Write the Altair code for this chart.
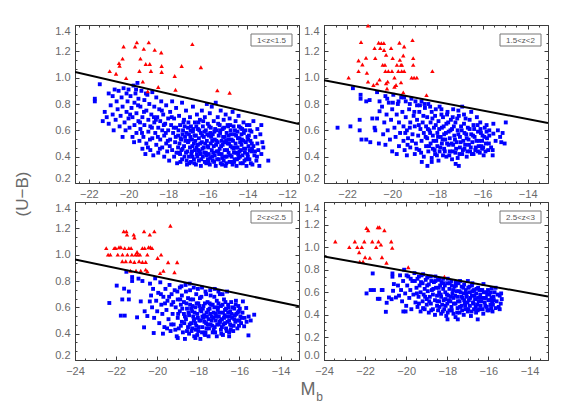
import altair as alt
import pandas as pd
import numpy as np

# ---------------- data ----------------
P1_LABEL = "1<z<1.5"
P1_XDOMAIN = [-22.7, -11.4]
P1_YDOMAIN = [0.2, 1.4]
P1_XTICKS = [-22, -20, -18, -16, -14, -12]
P1_LINE_X = [-22.7, -11.4]
P1_LINE_Y = [1.043, 0.648]
P1_RED = [(-20.95, 1.05), (-20.63, 1.03), (-20.45, 1.09), (-20.48, 1.11), (-20.3, 1.145), (-20.25, 1.237),
          (-20.12, 0.997), (-19.67, 1.237), (-19.58, 1.268), (-19.45, 1.051), (-19.4, 1.145), (-19.28, 0.97),
          (-19.23, 1.219), (-19.13, 1.104), (-18.98, 1.268), (-18.93, 1.104), (-18.87, 1.051), (-19.03, 0.896),
          (-18.68, 1.211), (-18.5, 0.929), (-18.35, 1.191), (-18.33, 1.089), (-18.33, 1.043), (-17.67, 1.013),
          (-17.63, 0.908), (-17.32, 1.089), (-16.78, 1.255), (-16.35, 1.079), (-15.52, 0.903), (-14.9, 0.885)]
P1_BLUE = [
    (-21.7, 0.84), (-21.7, 0.82), (-21.45, 0.95), (-21.3, 0.67), (-21.2, 0.74), (-21.1, 0.70), (-21.0, 0.65),
    (-21.0, 0.88), (-20.9, 0.79), (-20.8, 0.86), (-20.8, 0.72), (-20.75, 0.60), (-20.7, 0.91), (-20.65, 0.68),
    (-20.6, 0.82), (-20.55, 0.76), (-20.5, 0.90), (-20.45, 0.63), (-20.4, 0.71), (-20.35, 0.85), (-20.3, 0.55),
    (-20.3, 0.78), (-20.25, 0.92), (-20.2, 0.66), (-20.15, 0.60), (-20.1, 0.88), (-20.1, 0.74), (-20.05, 0.82),
    (-20.0, 0.69), (-20.0, 0.91),
    (-19.95, 0.62), (-19.9, 0.86), (-19.85, 0.77), (-19.8, 0.55), (-19.8, 0.70), (-19.75, 0.94), (-19.7, 0.64),
    (-19.7, 0.81), (-19.65, 0.88), (-19.6, 0.58), (-19.6, 0.73), (-19.55, 0.96), (-19.5, 0.67), (-19.5, 0.84),
    (-19.45, 0.52), (-19.4, 0.78), (-19.4, 0.61), (-19.35, 0.90), (-19.3, 0.70), (-19.3, 0.46), (-19.25, 0.55),
    (-19.2, 0.83), (-19.2, 0.64), (-19.15, 0.42), (-19.1, 0.75), (-19.1, 0.50), (-19.05, 0.87), (-19.0, 0.59),
    (-19.0, 0.68),
    (-18.95, 0.80), (-18.9, 0.45), (-18.9, 0.63), (-18.85, 0.72), (-18.8, 0.54), (-18.8, 0.89), (-18.75, 0.41),
    (-18.7, 0.66), (-18.7, 0.78), (-18.65, 0.58), (-18.6, 0.49), (-18.6, 0.85), (-18.55, 0.70), (-18.5, 0.62),
    (-18.5, 0.43), (-18.45, 0.76), (-18.4, 0.53), (-18.4, 0.67), (-18.35, 0.82), (-18.3, 0.47), (-18.3, 0.60),
    (-18.25, 0.72), (-18.2, 0.40), (-18.2, 0.56), (-18.15, 0.65), (-18.1, 0.79), (-18.1, 0.50), (-18.05, 0.44),
    (-18.0, 0.69), (-18.0, 0.60),
    (-17.95, 0.37), (-17.9, 0.53), (-17.9, 0.74), (-17.85, 0.64), (-17.8, 0.45), (-17.8, 0.82), (-17.75, 0.58),
    (-17.7, 0.40), (-17.7, 0.69), (-17.65, 0.51), (-17.6, 0.62), (-17.6, 0.77), (-17.55, 0.35), (-17.5, 0.47),
    (-17.5, 0.56), (-17.45, 0.71), (-17.4, 0.42), (-17.4, 0.64), (-17.35, 0.53), (-17.3, 0.81), (-17.3, 0.38),
    (-17.25, 0.60), (-17.2, 0.48), (-17.2, 0.68), (-17.15, 0.55), (-17.1, 0.75), (-17.1, 0.43), (-17.05, 0.34),
    (-17.0, 0.62), (-17.0, 0.51),
    (-16.95, 0.40), (-16.95, 0.57), (-16.9, 0.47), (-16.9, 0.70), (-16.85, 0.36), (-16.85, 0.63), (-16.8, 0.53),
    (-16.8, 0.44), (-16.75, 0.78), (-16.75, 0.59), (-16.7, 0.38), (-16.7, 0.50), (-16.65, 0.66), (-16.65, 0.45),
    (-16.6, 0.56), (-16.6, 0.34), (-16.55, 0.72), (-16.55, 0.42), (-16.5, 0.61), (-16.5, 0.49), (-16.45, 0.37),
    (-16.45, 0.54), (-16.4, 0.68), (-16.4, 0.44), (-16.35, 0.58), (-16.35, 0.33), (-16.3, 0.75), (-16.3, 0.51),
    (-16.25, 0.40), (-16.25, 0.63), (-16.2, 0.47), (-16.2, 0.55), (-16.15, 0.36), (-16.15, 0.70), (-16.1, 0.60),
    (-16.1, 0.43), (-16.05, 0.52), (-16.05, 0.80), (-16.0, 0.38), (-16.0, 0.65), (-16.0, 0.48),
    (-15.95, 0.56), (-15.95, 0.42), (-15.9, 0.73), (-15.9, 0.34), (-15.85, 0.50), (-15.85, 0.62), (-15.8, 0.45),
    (-15.8, 0.78), (-15.75, 0.37), (-15.75, 0.57), (-15.7, 0.67), (-15.7, 0.48), (-15.65, 0.41), (-15.65, 0.53),
    (-15.6, 0.81), (-15.6, 0.33), (-15.55, 0.60), (-15.55, 0.44), (-15.5, 0.70), (-15.5, 0.51), (-15.45, 0.38),
    (-15.45, 0.56), (-15.4, 0.64), (-15.4, 0.46), (-15.35, 0.35), (-15.35, 0.75), (-15.3, 0.52), (-15.3, 0.42),
    (-15.25, 0.61), (-15.25, 0.49), (-15.2, 0.37), (-15.2, 0.68), (-15.15, 0.55), (-15.15, 0.45), (-15.1, 0.33),
    (-15.1, 0.72), (-15.05, 0.58), (-15.05, 0.40), (-15.0, 0.50), (-15.0, 0.64),
    (-14.95, 0.43), (-14.95, 0.56), (-14.9, 0.36), (-14.9, 0.69), (-14.85, 0.48), (-14.85, 0.60), (-14.8, 0.40),
    (-14.8, 0.53), (-14.75, 0.74), (-14.75, 0.34), (-14.7, 0.46), (-14.7, 0.63), (-14.65, 0.57), (-14.65, 0.38),
    (-14.6, 0.50), (-14.6, 0.67), (-14.55, 0.43), (-14.55, 0.33), (-14.5, 0.59), (-14.5, 0.47), (-14.45, 0.71),
    (-14.45, 0.39), (-14.4, 0.54), (-14.4, 0.44), (-14.35, 0.62), (-14.35, 0.35), (-14.3, 0.49), (-14.3, 0.57),
    (-14.25, 0.41), (-14.2, 0.66), (-14.2, 0.52), (-14.15, 0.37), (-14.1, 0.46), (-14.1, 0.60), (-14.05, 0.33),
    (-14.0, 0.55), (-14.0, 0.42),
    (-13.95, 0.48), (-13.9, 0.64), (-13.9, 0.38), (-13.85, 0.52), (-13.8, 0.44), (-13.8, 0.59), (-13.75, 0.34),
    (-13.7, 0.67), (-13.7, 0.48), (-13.65, 0.41), (-13.6, 0.55), (-13.55, 0.37), (-13.5, 0.50), (-13.5, 0.61),
    (-13.45, 0.45), (-13.4, 0.33), (-13.35, 0.57), (-13.3, 0.64), (-13.3, 0.42), (-13.25, 0.51), (-13.2, 0.47),
    (-12.95, 0.37)]
P1_BLUE_DENSE = [
    (-17.48, 0.60), (-17.43, 0.50), (-17.38, 0.36), (-17.33, 0.45), (-17.28, 0.57), (-17.23, 0.66), (-17.18, 0.40),
    (-17.13, 0.52), (-17.08, 0.58), (-17.03, 0.44), (-16.98, 0.66), (-16.93, 0.35), (-16.88, 0.55), (-16.83, 0.42),
    (-16.78, 0.48), (-16.73, 0.61), (-16.68, 0.35), (-16.63, 0.52), (-16.58, 0.63), (-16.53, 0.40), (-16.48, 0.45),
    (-16.43, 0.60), (-16.38, 0.50), (-16.33, 0.38), (-16.28, 0.56), (-16.23, 0.67), (-16.18, 0.43), (-16.13, 0.50),
    (-16.08, 0.35), (-16.03, 0.57), (-15.98, 0.47), (-15.93, 0.63), (-15.88, 0.39), (-15.83, 0.55), (-15.78, 0.52),
    (-15.73, 0.43), (-15.68, 0.36), (-15.63, 0.61), (-15.58, 0.49), (-15.53, 0.38), (-15.48, 0.65), (-15.43, 0.42),
    (-15.38, 0.58), (-15.33, 0.48), (-15.28, 0.34), (-15.23, 0.55), (-15.18, 0.62), (-15.13, 0.40), (-15.08, 0.52),
    (-15.03, 0.45), (-14.98, 0.63), (-14.93, 0.50), (-14.88, 0.41), (-14.83, 0.57), (-14.78, 0.36), (-14.73, 0.52),
    (-14.68, 0.43), (-14.63, 0.60), (-14.58, 0.47), (-14.53, 0.38), (-14.48, 0.54), (-14.43, 0.63), (-14.38, 0.40),
    (-14.33, 0.45), (-14.28, 0.53), (-14.23, 0.35), (-14.18, 0.58), (-14.13, 0.43), (-14.08, 0.51), (-14.03, 0.64),
    (-13.98, 0.40), (-13.93, 0.56), (-13.88, 0.45), (-13.83, 0.35), (-13.78, 0.50),
    (-17.47, 0.43), (-17.37, 0.54), (-17.27, 0.46), (-17.17, 0.63), (-17.07, 0.37), (-16.97, 0.52), (-16.87, 0.60),
    (-16.77, 0.40), (-16.67, 0.56), (-16.57, 0.47), (-16.47, 0.66), (-16.37, 0.42), (-16.27, 0.46), (-16.17, 0.59),
    (-16.07, 0.41), (-15.97, 0.36), (-15.87, 0.58), (-15.77, 0.40), (-15.67, 0.59), (-15.57, 0.52), (-15.47, 0.44),
    (-15.37, 0.60), (-15.27, 0.39), (-15.17, 0.51), (-15.07, 0.35), (-14.97, 0.53), (-14.87, 0.64), (-14.77, 0.47),
    (-14.67, 0.36), (-14.57, 0.56), (-14.47, 0.42), (-14.37, 0.51), (-14.27, 0.61), (-14.17, 0.46), (-14.07, 0.38),
    (-13.97, 0.53), (-13.87, 0.60), (-13.77, 0.46), (-13.62, 0.44), (-13.52, 0.40),
    (-19.92, 0.72), (-19.72, 0.51), (-19.52, 0.79), (-19.32, 0.58), (-19.12, 0.88), (-18.92, 0.53), (-18.72, 0.70),
    (-18.52, 0.55), (-18.32, 0.75), (-18.12, 0.58), (-17.92, 0.48), (-17.72, 0.62), (-17.58, 0.43), (-19.62, 0.91),
    (-19.42, 0.66), (-19.22, 0.74), (-19.02, 0.47), (-18.82, 0.62), (-18.62, 0.68), (-18.42, 0.46), (-18.22, 0.64),
    (-18.02, 0.52), (-17.82, 0.70), (-17.62, 0.55)]

P2_LABEL = "1.5<z<2"
P2_XDOMAIN = [-23.02, -13.1]
P2_YDOMAIN = [0.2, 1.4]
P2_XTICKS = [-22, -20, -18, -16, -14]
P2_LINE_X = [-23.02, -13.1]
P2_LINE_Y = [0.98, 0.656]
P2_RED = [(-21.93, 1.0), (-21.49, 1.05), (-21.49, 1.13), (-21.38, 1.27), (-21.32, 1.10), (-21.16, 1.15),
          (-21.12, 1.036), (-21.07, 0.97), (-20.83, 0.944), (-20.78, 1.224), (-20.75, 1.148), (-20.67, 0.957),
          (-20.6, 1.265), (-20.56, 0.985), (-20.53, 1.224), (-20.48, 1.262), (-20.42, 1.097), (-20.37, 1.262),
          (-20.36, 1.21), (-20.32, 1.097), (-20.3, 1.05), (-20.27, 1.173), (-20.27, 0.957), (-20.23, 0.918),
          (-20.2, 0.97), (-20.17, 1.05), (-20.05, 1.224), (-20.01, 1.05), (-19.98, 1.148), (-19.9, 1.0),
          (-19.9, 0.931), (-19.83, 0.944), (-19.79, 1.097), (-19.73, 1.05), (-19.68, 1.265), (-19.66, 1.135),
          (-19.61, 1.097), (-19.58, 1.05), (-19.57, 1.097), (-19.51, 1.168), (-19.47, 1.237), (-19.47, 1.05),
          (-19.51, 0.888), (-19.61, 0.964), (-19.14, 1.0), (-19.1, 1.285), (-19.07, 1.148), (-19.03, 1.0),
          (-18.91, 1.0), (-19.07, 1.097), (-18.48, 0.867), (-18.22, 1.05), (-21.07, 1.395)]
P2_BLUE = [
    (-22.42, 0.62), (-21.85, 0.63), (-21.44, 0.60), (-21.44, 0.68), (-21.74, 0.92), (-21.4, 0.87), (-21.4, 0.84),
    (-21.36, 0.53), (-21.15, 0.53), (-20.97, 0.51), (-20.88, 0.69), (-21.0, 0.83), (-21.15, 0.82), (-20.78, 0.62),
    (-20.75, 0.60), (-20.67, 0.69), (-20.59, 0.50), (-20.56, 0.745), (-20.56, 0.82), (-20.67, 0.89),
    (-14.97, 0.66), (-15.11, 0.58), (-15.17, 0.51), (-15.52, 0.65), (-15.52, 0.575), (-15.55, 0.45),
    (-15.55, 0.41), (-15.7, 0.56), (-15.82, 0.64), (-16.02, 0.46), (-16.09, 0.61),
    (-18.69, 0.36), (-18.44, 0.33), (-18.25, 0.36), (-19.8, 0.42), (-19.35, 0.41), (-17.19, 0.345), (-17.05, 0.33),
    (-20.45, 0.78), (-20.4, 0.57), (-20.35, 0.66), (-20.3, 0.86), (-20.3, 0.49), (-20.25, 0.72), (-20.2, 0.60),
    (-20.15, 0.81), (-20.1, 0.53), (-20.05, 0.68), (-20.0, 0.76), (-20.0, 0.44), (-19.95, 0.87), (-19.9, 0.62),
    (-19.85, 0.55), (-19.8, 0.72), (-19.75, 0.80), (-19.7, 0.48), (-19.7, 0.66), (-19.65, 0.58), (-19.6, 0.85),
    (-19.55, 0.74), (-19.5, 0.52), (-19.5, 0.63),
    (-19.45, 0.45), (-19.4, 0.70), (-19.4, 0.82), (-19.35, 0.60), (-19.3, 0.54), (-19.25, 0.76), (-19.2, 0.47),
    (-19.2, 0.66), (-19.15, 0.84), (-19.1, 0.57), (-19.05, 0.71), (-19.0, 0.42), (-19.0, 0.63), (-18.95, 0.50),
    (-18.9, 0.79), (-18.9, 0.68), (-18.85, 0.56), (-18.8, 0.45), (-18.8, 0.74), (-18.75, 0.61), (-18.7, 0.82),
    (-18.7, 0.52), (-18.65, 0.66), (-18.6, 0.40), (-18.6, 0.58), (-18.55, 0.77), (-18.5, 0.48), (-18.5, 0.63),
    (-18.45, 0.70), (-18.45, 0.54), (-18.4, 0.44), (-18.4, 0.80), (-18.35, 0.60), (-18.3, 0.50), (-18.3, 0.66),
    (-18.25, 0.39), (-18.25, 0.74), (-18.2, 0.56), (-18.2, 0.46), (-18.15, 0.62), (-18.1, 0.42), (-18.1, 0.71),
    (-18.05, 0.52), (-18.0, 0.58), (-18.0, 0.48), (-17.95, 0.67), (-17.95, 0.37), (-17.9, 0.44), (-17.9, 0.78),
    (-17.85, 0.55), (-17.8, 0.62), (-17.8, 0.50), (-17.75, 0.41), (-17.75, 0.70), (-17.7, 0.46), (-17.7, 0.57),
    (-17.65, 0.53), (-17.6, 0.65), (-17.6, 0.40), (-17.55, 0.74), (-17.5, 0.49), (-17.5, 0.59),
    (-17.45, 0.44), (-17.45, 0.54), (-17.4, 0.68), (-17.35, 0.38), (-17.35, 0.61), (-17.3, 0.49), (-17.3, 0.76),
    (-17.25, 0.56), (-17.2, 0.43), (-17.2, 0.66), (-17.15, 0.51), (-17.1, 0.60), (-17.1, 0.39), (-17.05, 0.71),
    (-17.0, 0.47), (-17.0, 0.55), (-16.95, 0.63), (-16.9, 0.42), (-16.9, 0.78), (-16.85, 0.52), (-16.8, 0.58),
    (-16.8, 0.46), (-16.75, 0.69), (-16.7, 0.40), (-16.7, 0.54), (-16.65, 0.62), (-16.6, 0.49), (-16.55, 0.44),
    (-16.5, 0.74), (-16.5, 0.57),
    (-16.45, 0.51), (-16.4, 0.64), (-16.4, 0.42), (-16.35, 0.55), (-16.3, 0.47), (-16.25, 0.70), (-16.2, 0.59),
    (-16.2, 0.44), (-16.15, 0.52), (-16.1, 0.66), (-16.05, 0.48), (-16.0, 0.56), (-15.95, 0.41), (-15.9, 0.62),
    (-15.85, 0.50), (-15.8, 0.54), (-15.75, 0.45), (-15.7, 0.60)]
P2_BLUE_DENSE = [
    (-19.42, 0.58), (-19.32, 0.49), (-19.22, 0.62), (-19.12, 0.52), (-19.02, 0.74), (-18.92, 0.46), (-18.82, 0.64),
    (-18.72, 0.43), (-18.62, 0.71), (-18.52, 0.55), (-18.42, 0.61), (-18.37, 0.48), (-18.32, 0.58), (-18.22, 0.69),
    (-18.17, 0.52), (-18.12, 0.45), (-18.07, 0.64), (-18.02, 0.41), (-17.97, 0.55), (-17.92, 0.61), (-17.87, 0.47),
    (-17.82, 0.72), (-17.77, 0.53), (-17.72, 0.63), (-17.67, 0.44), (-17.62, 0.58), (-17.57, 0.50), (-17.52, 0.66),
    (-17.47, 0.41), (-17.42, 0.60), (-17.37, 0.50), (-17.32, 0.44), (-17.27, 0.63), (-17.22, 0.53), (-17.17, 0.46),
    (-17.12, 0.69), (-17.07, 0.57), (-17.02, 0.42), (-16.97, 0.51), (-16.92, 0.60), (-16.87, 0.45), (-16.82, 0.65),
    (-16.77, 0.49), (-16.72, 0.57), (-16.67, 0.44), (-16.62, 0.53), (-16.57, 0.61), (-16.52, 0.47), (-16.47, 0.42),
    (-16.42, 0.56), (-16.37, 0.61), (-16.32, 0.45), (-16.27, 0.52), (-16.22, 0.64), (-16.17, 0.48), (-16.12, 0.43),
    (-16.07, 0.58), (-16.02, 0.52), (-15.97, 0.47), (-15.92, 0.55), (-15.87, 0.44), (-15.82, 0.59), (-15.72, 0.50),
    (-15.62, 0.47), (-15.42, 0.52), (-15.32, 0.60), (-15.22, 0.55), (-15.02, 0.50),
    (-20.22, 0.84), (-19.97, 0.81), (-19.72, 0.82), (-19.47, 0.85), (-19.22, 0.80), (-18.97, 0.82), (-18.77, 0.79),
    (-18.57, 0.80), (-18.32, 0.78), (-18.07, 0.76), (-17.82, 0.76), (-17.57, 0.72), (-17.32, 0.70), (-17.07, 0.75),
    (-16.82, 0.72), (-16.57, 0.68)]

P3_LABEL = "2<z<2.5"
P3_XDOMAIN = [-24.0, -13.1]
P3_YDOMAIN = [0.2, 1.4]
P3_XTICKS = [-24, -22, -20, -18, -16, -14]
P3_LINE_X = [-24.0, -13.1]
P3_LINE_Y = [0.964, 0.608]
P3_RED = [(-22.48, 1.05), (-22.39, 1.0), (-22.28, 1.0), (-22.09, 1.05), (-22.02, 1.05), (-21.92, 1.0),
          (-21.86, 1.056), (-21.77, 1.056), (-21.7, 0.95), (-21.69, 1.0), (-21.63, 1.177), (-21.58, 1.05),
          (-21.5, 1.177), (-21.47, 1.152), (-21.53, 0.95), (-21.45, 1.0), (-21.38, 1.05), (-21.3, 0.95),
          (-21.27, 1.05), (-21.23, 1.0), (-21.14, 1.152), (-21.11, 1.13), (-21.11, 0.944), (-21.06, 1.0),
          (-20.98, 1.02), (-21.03, 0.878), (-20.95, 1.0), (-20.88, 0.95), (-20.84, 1.0), (-20.8, 0.878),
          (-20.72, 1.05), (-20.72, 0.944), (-20.64, 1.177), (-20.61, 1.05), (-20.56, 0.886), (-20.56, 0.944),
          (-20.48, 1.0), (-20.48, 0.873), (-20.42, 1.056), (-20.36, 1.152), (-20.33, 1.056), (-20.25, 1.05),
          (-20.14, 1.177), (-19.98, 0.975), (-19.86, 0.86), (-19.81, 1.0), (-19.7, 0.878), (-19.47, 0.942),
          (-19.36, 1.22), (-19.16, 0.866), (-19.03, 0.942), (-21.3, 0.878)]
P3_BLUE = [
    (-22.33, 0.633), (-21.97, 0.765), (-21.7, 0.66), (-21.77, 0.537), (-21.58, 0.537), (-21.61, 0.742),
    (-21.38, 0.72), (-21.38, 0.66), (-21.5, 0.87), (-21.22, 0.83), (-21.22, 0.80), (-20.98, 0.524),
    (-20.8, 0.645), (-20.64, 0.448), (-20.91, 0.818), (-20.72, 0.80), (-20.61, 0.57), (-20.48, 0.534),
    (-20.36, 0.645), (-20.17, 0.405),
    (-15.28, 0.544), (-15.56, 0.387), (-15.83, 0.645), (-15.67, 0.595), (-15.88, 0.52), (-15.77, 0.456),
    (-16.03, 0.57), (-16.17, 0.65),
    (-20.35, 0.78), (-20.3, 0.69), (-20.25, 0.60), (-20.2, 0.74), (-20.15, 0.52), (-20.1, 0.82), (-20.05, 0.65),
    (-20.0, 0.57), (-19.95, 0.71), (-19.9, 0.48), (-19.85, 0.79), (-19.8, 0.62), (-19.75, 0.55), (-19.7, 0.68),
    (-19.65, 0.45), (-19.6, 0.74), (-19.55, 0.58), (-19.5, 0.65),
    (-19.45, 0.51), (-19.4, 0.77), (-19.35, 0.42), (-19.3, 0.62), (-19.3, 0.70), (-19.25, 0.55), (-19.2, 0.47),
    (-19.15, 0.73), (-19.1, 0.60), (-19.05, 0.38), (-19.0, 0.66), (-19.0, 0.52), (-18.95, 0.44), (-18.9, 0.57),
    (-18.9, 0.75), (-18.85, 0.62), (-18.8, 0.49), (-18.8, 0.69), (-18.75, 0.41), (-18.7, 0.55), (-18.7, 0.64),
    (-18.65, 0.36), (-18.6, 0.72), (-18.6, 0.51), (-18.55, 0.59), (-18.5, 0.45), (-18.5, 0.67),
    (-18.45, 0.54), (-18.45, 0.40), (-18.4, 0.62), (-18.4, 0.73), (-18.35, 0.48), (-18.3, 0.57), (-18.3, 0.44),
    (-18.25, 0.66), (-18.2, 0.51), (-18.2, 0.38), (-18.15, 0.60), (-18.1, 0.70), (-18.1, 0.46), (-18.05, 0.55),
    (-18.0, 0.42), (-18.0, 0.63), (-17.95, 0.50), (-17.9, 0.58), (-17.9, 0.36), (-17.85, 0.68), (-17.8, 0.45),
    (-17.8, 0.53), (-17.75, 0.61), (-17.7, 0.40), (-17.7, 0.49), (-17.65, 0.72), (-17.6, 0.56), (-17.6, 0.44),
    (-17.55, 0.64), (-17.5, 0.51), (-17.5, 0.38),
    (-17.45, 0.59), (-17.4, 0.47), (-17.4, 0.69), (-17.35, 0.53), (-17.3, 0.41), (-17.3, 0.62), (-17.25, 0.56),
    (-17.2, 0.45), (-17.2, 0.74), (-17.15, 0.50), (-17.1, 0.65), (-17.1, 0.38), (-17.05, 0.58), (-17.0, 0.47),
    (-17.0, 0.53), (-16.95, 0.70), (-16.9, 0.43), (-16.9, 0.61), (-16.85, 0.51), (-16.8, 0.56), (-16.8, 0.39),
    (-16.75, 0.66), (-16.7, 0.48), (-16.7, 0.58), (-16.65, 0.44), (-16.6, 0.53), (-16.6, 0.72), (-16.55, 0.62),
    (-16.5, 0.41), (-16.5, 0.50),
    (-16.45, 0.57), (-16.4, 0.46), (-16.4, 0.64), (-16.35, 0.52), (-16.3, 0.42), (-16.25, 0.59), (-16.2, 0.49),
    (-16.15, 0.55), (-16.1, 0.44), (-16.05, 0.61), (-16.0, 0.50), (-15.95, 0.53),
    (-19.0, 0.367), (-18.14, 0.367), (-17.67, 0.39), (-16.5, 0.38),
    (-18.85, 0.46), (-18.65, 0.53), (-18.35, 0.59), (-18.15, 0.48), (-17.95, 0.61), (-17.75, 0.52),
    (-17.55, 0.47), (-17.35, 0.50), (-17.15, 0.55), (-16.95, 0.49), (-16.75, 0.52), (-16.55, 0.56),
    (-18.55, 0.42), (-18.05, 0.39), (-17.65, 0.41), (-17.25, 0.43), (-16.85, 0.45), (-16.45, 0.47),
    (-18.25, 0.53), (-17.85, 0.57), (-17.45, 0.63), (-17.05, 0.60), (-16.65, 0.59), (-16.25, 0.51)]
P3_BLUE_DENSE = [
    (-18.98, 0.55), (-18.88, 0.66), (-18.78, 0.59), (-18.68, 0.48), (-18.58, 0.63), (-18.48, 0.56), (-18.42, 0.47),
    (-18.38, 0.66), (-18.33, 0.42), (-18.28, 0.61), (-18.22, 0.50), (-18.18, 0.56), (-18.12, 0.43), (-18.08, 0.63),
    (-18.02, 0.52), (-17.98, 0.45), (-17.92, 0.67), (-17.88, 0.50), (-17.82, 0.41), (-17.78, 0.59), (-17.72, 0.54),
    (-17.68, 0.63), (-17.62, 0.48), (-17.58, 0.53), (-17.52, 0.58), (-17.48, 0.44), (-17.42, 0.55), (-17.38, 0.62),
    (-17.32, 0.46), (-17.28, 0.52), (-17.22, 0.60), (-17.18, 0.41), (-17.12, 0.53), (-17.08, 0.47), (-17.02, 0.63),
    (-16.98, 0.56), (-16.92, 0.50), (-16.88, 0.40), (-16.82, 0.62), (-16.78, 0.47), (-16.72, 0.54), (-16.68, 0.64),
    (-16.62, 0.42), (-16.58, 0.49), (-16.52, 0.60), (-16.48, 0.53), (-16.42, 0.43), (-16.38, 0.55), (-16.32, 0.60),
    (-16.28, 0.46), (-16.22, 0.54), (-16.18, 0.62), (-16.12, 0.50), (-16.08, 0.56), (-16.02, 0.46), (-15.98, 0.59),
    (-15.92, 0.48), (-15.85, 0.56), (-15.75, 0.52), (-15.65, 0.49), (-15.55, 0.53), (-15.45, 0.50),
    (-19.82, 0.70), (-19.62, 0.63), (-19.42, 0.68), (-19.22, 0.64), (-19.02, 0.72), (-18.82, 0.76), (-18.62, 0.77),
    (-18.42, 0.78), (-18.22, 0.75), (-18.02, 0.74), (-17.82, 0.75), (-17.62, 0.70), (-17.42, 0.73), (-17.22, 0.68),
    (-17.02, 0.72), (-16.82, 0.70), (-19.72, 0.40), (-19.52, 0.44), (-19.32, 0.47), (-19.12, 0.43)]

P4_LABEL = "2.5<z<3"
P4_XDOMAIN = [-24.0, -13.1]
P4_YDOMAIN = [0.0, 1.4]
P4_XTICKS = [-24, -22, -20, -18, -16, -14]
P4_LINE_X = [-24.0, -13.1]
P4_LINE_Y = [0.918, 0.563]
P4_RED = [(-23.45, 1.05), (-22.77, 1.0), (-22.5, 1.05), (-22.38, 1.0), (-22.29, 0.955), (-22.26, 0.872),
          (-22.16, 1.0), (-22.1, 0.872), (-22.04, 1.05), (-22.0, 0.91), (-21.93, 1.17), (-21.85, 1.15),
          (-21.77, 0.905), (-21.65, 1.05), (-21.46, 1.0), (-21.38, 1.176), (-21.3, 1.176), (-21.35, 1.05),
          (-21.23, 1.022), (-21.18, 0.91), (-21.06, 1.15), (-20.96, 0.862), (-20.73, 1.05), (-20.68, 0.994),
          (-19.9, 0.822), (-18.14, 0.739)]
P4_BLUE = [
    (-21.63, 0.767), (-21.93, 0.59), (-21.73, 0.62), (-21.57, 0.62), (-21.3, 0.542), (-21.19, 0.62),
    (-21.15, 0.62), (-21.38, 0.542), (-20.99, 0.427), (-20.95, 0.507), (-20.84, 0.554), (-20.71, 0.539),
    (-20.64, 0.613), (-20.6, 0.673), (-20.5, 0.554), (-20.67, 0.767), (-20.67, 0.738),
    (-15.74, 0.53), (-15.78, 0.49), (-15.87, 0.46), (-15.84, 0.637), (-16.06, 0.584), (-16.24, 0.673),
    (-16.52, 0.36), (-17.99, 0.36), (-17.49, 0.36), (-20.14, 0.43), (-20.03, 0.43),
    (-20.4, 0.66), (-20.35, 0.57), (-20.3, 0.75), (-20.25, 0.62), (-20.2, 0.52), (-20.15, 0.70), (-20.1, 0.80),
    (-20.05, 0.59), (-20.0, 0.48), (-19.95, 0.66), (-19.9, 0.74), (-19.85, 0.55), (-19.8, 0.62), (-19.75, 0.45),
    (-19.7, 0.70), (-19.65, 0.58), (-19.6, 0.77), (-19.55, 0.51), (-19.5, 0.64),
    (-19.45, 0.72), (-19.45, 0.47), (-19.4, 0.56), (-19.35, 0.66), (-19.3, 0.43), (-19.3, 0.60), (-19.25, 0.75),
    (-19.2, 0.52), (-19.2, 0.68), (-19.15, 0.58), (-19.1, 0.45), (-19.1, 0.63), (-19.05, 0.71), (-19.0, 0.54),
    (-19.0, 0.49), (-18.95, 0.61), (-18.9, 0.42), (-18.9, 0.67), (-18.85, 0.56), (-18.8, 0.74), (-18.8, 0.50),
    (-18.75, 0.62), (-18.7, 0.45), (-18.7, 0.58), (-18.65, 0.69), (-18.6, 0.53), (-18.6, 0.40), (-18.55, 0.64),
    (-18.5, 0.48), (-18.5, 0.57),
    (-18.45, 0.71), (-18.45, 0.44), (-18.4, 0.60), (-18.4, 0.52), (-18.35, 0.66), (-18.3, 0.41), (-18.3, 0.56),
    (-18.25, 0.49), (-18.2, 0.63), (-18.2, 0.72), (-18.15, 0.45), (-18.1, 0.54), (-18.1, 0.60), (-18.05, 0.39),
    (-18.0, 0.68), (-18.0, 0.50), (-17.95, 0.57), (-17.9, 0.44), (-17.9, 0.63), (-17.85, 0.52), (-17.8, 0.70),
    (-17.8, 0.47), (-17.75, 0.59), (-17.7, 0.41), (-17.7, 0.55), (-17.65, 0.65), (-17.6, 0.50), (-17.6, 0.38),
    (-17.55, 0.61), (-17.5, 0.46), (-17.5, 0.56),
    (-17.45, 0.68), (-17.4, 0.52), (-17.4, 0.42), (-17.35, 0.60), (-17.3, 0.48), (-17.3, 0.65), (-17.25, 0.55),
    (-17.2, 0.40), (-17.2, 0.59), (-17.15, 0.50), (-17.1, 0.62), (-17.1, 0.45), (-17.05, 0.56), (-17.0, 0.70),
    (-17.0, 0.43), (-16.95, 0.53), (-16.9, 0.60), (-16.9, 0.48), (-16.85, 0.39), (-16.8, 0.57), (-16.8, 0.66),
    (-16.75, 0.51), (-16.7, 0.45), (-16.7, 0.62), (-16.65, 0.54), (-16.6, 0.42), (-16.6, 0.59), (-16.55, 0.49),
    (-16.5, 0.64), (-16.5, 0.55),
    (-16.45, 0.45), (-16.4, 0.58), (-16.35, 0.52), (-16.3, 0.62), (-16.25, 0.41), (-16.2, 0.55), (-16.15, 0.48),
    (-16.1, 0.60), (-16.05, 0.44), (-16.0, 0.53), (-15.95, 0.58), (-15.9, 0.49), (-15.85, 0.55), (-15.8, 0.43),
    (-15.7, 0.60), (-15.6, 0.52), (-15.5, 0.47), (-15.45, 0.57), (-15.4, 0.50), (-15.35, 0.54)]
P4_BLUE_DENSE = [
    (-19.48, 0.59), (-19.38, 0.50), (-19.28, 0.69), (-19.18, 0.46), (-19.08, 0.56), (-18.98, 0.66), (-18.88, 0.52),
    (-18.78, 0.44), (-18.68, 0.63), (-18.58, 0.70), (-18.48, 0.52), (-18.42, 0.64), (-18.38, 0.47), (-18.32, 0.58),
    (-18.28, 0.69), (-18.22, 0.43), (-18.18, 0.53), (-18.12, 0.66), (-18.08, 0.48), (-18.02, 0.58), (-17.98, 0.42),
    (-17.92, 0.53), (-17.88, 0.68), (-17.82, 0.56), (-17.78, 0.44), (-17.72, 0.62), (-17.68, 0.50), (-17.62, 0.57),
    (-17.58, 0.66), (-17.52, 0.42), (-17.48, 0.52), (-17.42, 0.61), (-17.38, 0.47), (-17.32, 0.56), (-17.28, 0.44),
    (-17.22, 0.64), (-17.18, 0.53), (-17.12, 0.48), (-17.08, 0.59), (-17.02, 0.51), (-16.98, 0.45), (-16.92, 0.65),
    (-16.88, 0.55), (-16.82, 0.43), (-16.78, 0.61), (-16.72, 0.50), (-16.68, 0.57), (-16.62, 0.47), (-16.58, 0.63),
    (-16.52, 0.44), (-16.48, 0.52), (-16.42, 0.62), (-16.38, 0.48), (-16.32, 0.55), (-16.28, 0.45), (-16.22, 0.60),
    (-16.18, 0.51), (-16.12, 0.55), (-16.08, 0.47), (-16.02, 0.62), (-15.98, 0.44), (-15.92, 0.53), (-15.88, 0.60),
    (-15.82, 0.50), (-15.75, 0.56), (-15.65, 0.46), (-15.55, 0.58), (-15.45, 0.45), (-15.38, 0.59), (-15.65, 0.64),
    (-19.98, 0.75), (-19.78, 0.72), (-19.58, 0.70), (-19.38, 0.74), (-19.18, 0.76), (-18.98, 0.73), (-18.78, 0.70),
    (-18.58, 0.74), (-18.38, 0.72), (-18.18, 0.68), (-17.98, 0.72), (-17.78, 0.66), (-17.58, 0.69), (-17.38, 0.70),
    (-17.18, 0.67), (-16.98, 0.64), (-16.78, 0.68)]

Y_TITLE = "(U\u2212B)"
X_TITLE_MAIN = "M"
X_TITLE_SUB = "b"

# ---------------- styling ----------------
FONT = "Liberation Sans"
GRAY = "#6a6a6a"
FRAME = "#3c3c3c"
BLUE = "#0000ff"
RED = "#ff0000"
W, H = 224, 158


def main_axis(orient, values, fmt, flush):
    return alt.Axis(orient=orient, values=values, format=fmt, ticks=False, domain=False, grid=False,
                    title=None, labelColor=GRAY, labelFont=FONT, labelFontSize=11, labelPadding=5,
                    labelFlush=flush, labelOverlap=False)


def tick_axis(orient, values, size):
    return alt.Axis(orient=orient, values=values, ticks=True, tickSize=size, tickColor=FRAME, tickWidth=1,
                    labels=False, domain=False, grid=False, title=None, offset=-size)


def minor_values(lo, hi, step):
    start = np.ceil(lo / step - 1e-9) * step
    return [round(float(v), 4) for v in np.arange(start, hi + 1e-9, step)]


def panel(blue, red, lx, ly, label, xdom, ydom, xticks, extras=()):
    bdf = pd.DataFrame(blue, columns=["x", "y"])
    rdf = pd.DataFrame(red, columns=["x", "y"])
    ldf = pd.DataFrame({"x": lx, "y": ly})
    xs = alt.Scale(domain=xdom, nice=False, zero=False)
    ys = alt.Scale(domain=ydom, nice=False, zero=False)
    yticks = [round(v, 1) for v in np.arange(ydom[0], ydom[1] + 1e-9, 0.2)]
    xminor = minor_values(xdom[0], xdom[1], 0.5)
    yminor = minor_values(ydom[0], ydom[1], 0.2 / 3)

    def X(ax):
        return alt.X("x:Q", scale=xs, axis=ax)

    def Y(ax):
        return alt.Y("y:Q", scale=ys, axis=ax)

    blue_l = alt.Chart(bdf).mark_square(size=15, color=BLUE, opacity=1).encode(
        x=X(main_axis("bottom", xticks, "d", False)), y=Y(main_axis("left", yticks, ".1f", True)))
    red_l = alt.Chart(rdf).mark_point(shape="triangle-up", filled=True, size=20, color=RED, opacity=1).encode(
        x=X(tick_axis("bottom", xticks, 4)), y=Y(tick_axis("left", yticks, 4)))
    line_l = alt.Chart(ldf).mark_line(color="black", strokeWidth=2, clip=True).encode(
        x=X(tick_axis("top", xticks, 4)), y=Y(tick_axis("right", yticks, 4)))
    minor_a = alt.Chart(ldf).mark_line(opacity=0).encode(
        x=X(tick_axis("bottom", xminor, 2)), y=Y(tick_axis("left", yminor, 2)))
    minor_b = alt.Chart(ldf).mark_line(opacity=0).encode(
        x=X(tick_axis("top", xminor, 2)), y=Y(tick_axis("right", yminor, 2)))
    lab = pd.DataFrame({"t": [label]})
    box = alt.Chart(lab).mark_rect(fill="white", stroke="#777777", strokeWidth=1).encode(
        x=alt.value(176), x2=alt.value(217), y=alt.value(9), y2=alt.value(21))
    txt = alt.Chart(lab).mark_text(font=FONT, fontSize=8, color="#555555", align="center",
                                   baseline="middle").encode(
        text="t:N", x=alt.value(196.5), y=alt.value(15.5))
    layers = [blue_l, red_l, line_l, minor_a, minor_b, box, txt] + list(extras)
    return alt.layer(*layers).resolve_axis(x="independent", y="independent").properties(width=W, height=H)


ytitle = alt.Chart(pd.DataFrame({"t": [Y_TITLE]})).mark_text(
    font=FONT, fontSize=17, color=GRAY, angle=270, align="center", baseline="middle").encode(
    text="t:N", x=alt.value(-52), y=alt.value(169))
xtitle_m = alt.Chart(pd.DataFrame({"t": [X_TITLE_MAIN]})).mark_text(
    font=FONT, fontSize=18, color=GRAY, align="center", baseline="middle").encode(
    text="t:N", x=alt.value(-16), y=alt.value(188))
xtitle_b = alt.Chart(pd.DataFrame({"t": [X_TITLE_SUB]})).mark_text(
    font=FONT, fontSize=12, color=GRAY, align="center", baseline="middle").encode(
    text="t:N", x=alt.value(-4.5), y=alt.value(195))

p1 = panel(P1_BLUE + P1_BLUE_DENSE, P1_RED, P1_LINE_X, P1_LINE_Y, P1_LABEL, P1_XDOMAIN, P1_YDOMAIN,
           P1_XTICKS, [ytitle])
p2 = panel(P2_BLUE + P2_BLUE_DENSE, P2_RED, P2_LINE_X, P2_LINE_Y, P2_LABEL, P2_XDOMAIN, P2_YDOMAIN,
           P2_XTICKS)
p3 = panel(P3_BLUE + P3_BLUE_DENSE, P3_RED, P3_LINE_X, P3_LINE_Y, P3_LABEL, P3_XDOMAIN, P3_YDOMAIN,
           P3_XTICKS)
p4 = panel(P4_BLUE + P4_BLUE_DENSE, P4_RED, P4_LINE_X, P4_LINE_Y, P4_LABEL, P4_XDOMAIN, P4_YDOMAIN,
           P4_XTICKS, [xtitle_m, xtitle_b])

chart = alt.concat(p1, p2, p3, p4, columns=2, spacing={"row": 19, "column": 25}, bounds="flush").configure_view(
    stroke=FRAME, strokeWidth=1).properties(
    padding={"left": 5, "top": 15, "right": 5, "bottom": 5}, background="white")

chart.save("out.html", embed_options={"renderer": "svg", "actions": False})
